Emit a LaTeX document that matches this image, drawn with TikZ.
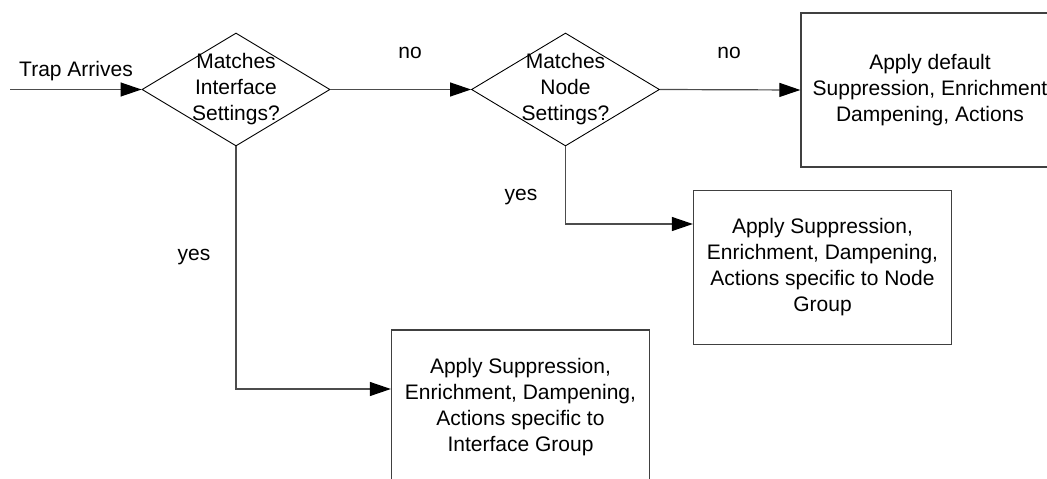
\documentclass[tikz,border=0pt]{standalone}
\usepackage{fontspec}
\setmainfont{Liberation Sans}
\usetikzlibrary{shapes.geometric,arrows.meta}
\begin{document}
\begin{tikzpicture}[x=1pt,y=-1pt,
  every node/.style={font=\fontsize{21}{26}\selectfont},
  decision/.style={diamond,draw=black,line width=0.9pt,minimum width=188pt,minimum height=113pt,inner sep=0pt},
  qtext/.style={align=center,inner sep=0pt},
  actbox/.style={rectangle,draw=black!75,line width=1.3pt,minimum width=258pt,minimum height=154pt,align=center,inner sep=0pt},
  conn/.style={draw=black!70,line width=1.2pt,-{Triangle[length=21pt,width=14pt,fill=black,color=black]}},
  lbl/.style={inner sep=0pt}]
\useasboundingbox (0,0) rectangle (1047,479);
\clip (0,0) rectangle (1047,479);
% decisions
\node[decision] (d1) at (236,89.5) {};
\node[qtext] (d1t) at (236,89.5) {Matches\\Interface\\Settings?};
\node[decision] (d2) at (565.5,89.5) {};
\node[qtext] (d2t) at (565.5,89.5) {Matches\\Node\\Settings?};
% action boxes
\node[actbox] (b1) at (930,90) {Apply default\\Suppression, Enrichment\\Dampening, Actions};
\node[actbox] (b2) at (822.5,267.5) {Apply Suppression,\\Enrichment, Dampening,\\Actions specific to Node\\Group};
\node[actbox] (b3) at (520.5,407) {Apply Suppression,\\Enrichment, Dampening,\\Actions specific to\\Interface Group};
% connector ends
\coordinate (start) at (10,89.5);
\coordinate (e2) at (b2.west |- 0,224);
\coordinate (e3) at (b3.west |- 0,389);
% connectors
\draw[conn] (start) -- (d1.west);
\draw[conn] (d1.east) -- (d2.west);
\draw[conn] (d2.east) -- (b1.west);
\draw[conn] (d2.south) |- (e2);
\draw[conn] (d1.south) |- (e3);
% labels
\node[lbl] (ltrap) at (76,71) {Trap Arrives};
\node[lbl] (lno1) at (410,53) {no};
\node[lbl] (lno2) at (729,53) {no};
\node[lbl] (lyes2) at (521,197) {yes};
\node[lbl] (lyes1) at (194,257) {yes};
\end{tikzpicture}
\end{document}
